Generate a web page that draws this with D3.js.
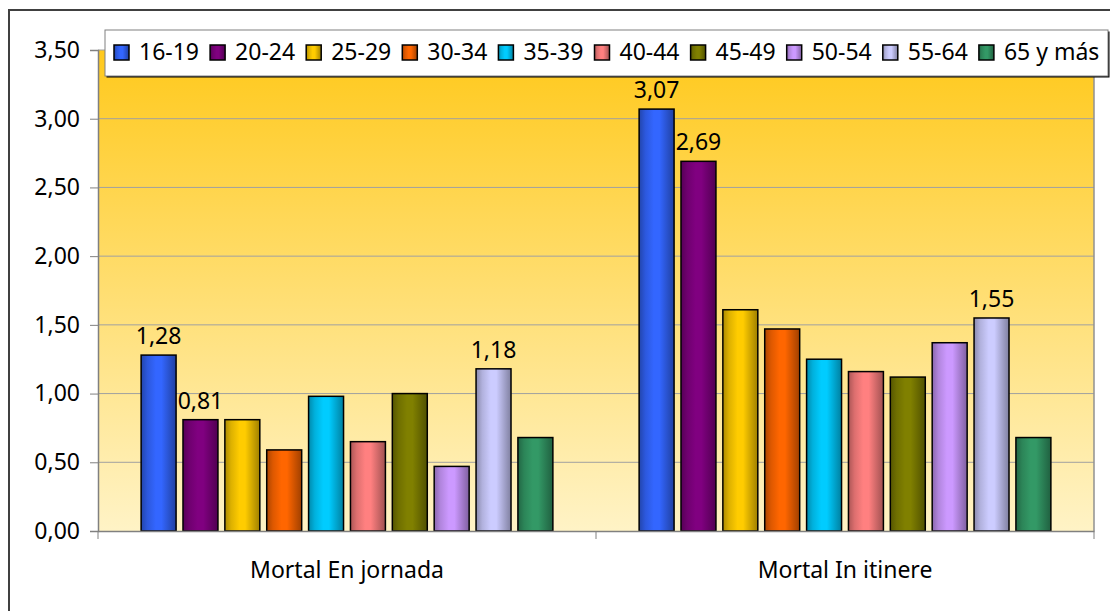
<!DOCTYPE html>
<html>
<head>
<meta charset="utf-8">
<script src="https://cdn.jsdelivr.net/npm/d3@7"></script>
<style>
  body { margin: 0; background: #fff; }
  svg text { font-family: "Noto Sans", "Open Sans", sans-serif; fill: #000; }
</style>
</head>
<body>
<div id="chart"></div>
<script>
// Datos
const categories = ["Mortal En jornada", "Mortal In itinere"];
const ageGroups = ["16-19", "20-24", "25-29", "30-34", "35-39", "40-44", "45-49", "50-54", "55-64", "65 y más"];
const enJornada = [1.28, 0.81, 0.81, 0.59, 0.98, 0.65, 1.00, 0.47, 1.18, 0.68];
const inItinere = [3.07, 2.69, 1.61, 1.47, 1.25, 1.16, 1.12, 1.37, 1.55, 0.68];
const seriesColors = ["#3366FF", "#800080", "#FFCC00", "#FF6600", "#00CCFF", "#FF8080", "#808000", "#CC99FF", "#CCCCFF", "#339966"];
const yTickValues = [0, 0.5, 1, 1.5, 2, 2.5, 3, 3.5];
// qué barras llevan etiqueta de valor
const labelledEnJornada = ["16-19", "20-24", "55-64"];
const labelledInItinere = ["16-19", "20-24", "55-64"];

const values = [enJornada, inItinere];
const labelled = [labelledEnJornada, labelledInItinere];

const rows = [];
categories.forEach((cat, ci) => {
    ageGroups.forEach((g, gi) => {
        rows.push({ cat: cat, group: g, gi: gi, value: values[ci][gi], label: labelled[ci].includes(g) });
    });
});

const es = d3.formatLocale({ decimal: ",", thousands: ".", grouping: [3], currency: ["", "€"] });
const fmt = es.format(".2f");

const width = 1110, height = 611;
const plotLeft = 98, plotRight = 1094, plotTop = 50, plotBottom = 531;
const fontSize = "23px";

const svg = d3.select("#chart").append("svg")
    .attr("width", width)
    .attr("height", height);

const defs = svg.append("defs");

// fondo del área de trazado
const bg = defs.append("linearGradient")
    .attr("id", "bg").attr("x1", 0).attr("y1", 0).attr("x2", 0).attr("y2", 1);
bg.append("stop").attr("offset", "0%").attr("stop-color", "#FFC91C");
bg.append("stop").attr("offset", "100%").attr("stop-color", "#FFF3C6");

// degradados de las barras
seriesColors.forEach((c, i) => {
    const g = defs.append("linearGradient")
        .attr("id", "bar" + i).attr("x1", 0).attr("y1", 0).attr("x2", 1).attr("y2", 0);
    const base = d3.rgb(c);
    g.append("stop").attr("offset", "0%").attr("stop-color", base.darker(1.1));
    g.append("stop").attr("offset", "18%").attr("stop-color", base.darker(0.4));
    g.append("stop").attr("offset", "42%").attr("stop-color", base);
    g.append("stop").attr("offset", "58%").attr("stop-color", base);
    g.append("stop").attr("offset", "100%").attr("stop-color", base.darker(1.3));
});

// marco exterior
svg.append("rect")
    .attr("x", 9).attr("y", 10)
    .attr("width", width + 20).attr("height", height + 20)
    .attr("fill", "#fff")
    .attr("stroke", "#404040")
    .attr("stroke-width", 2);

// escalas
const x0 = d3.scaleBand()
    .domain(categories)
    .range([plotLeft, plotRight]);

const x1 = d3.scaleBand()
    .domain(ageGroups)
    .range([0, x0.bandwidth()])
    .paddingInner(0.165)
    .paddingOuter(1.03);

const y = d3.scaleLinear()
    .domain([0, 3.5])
    .range([plotBottom, plotTop]);

// área de trazado
svg.append("rect")
    .attr("x", plotLeft).attr("y", plotTop)
    .attr("width", plotRight - plotLeft).attr("height", plotBottom - plotTop)
    .attr("fill", "url(#bg)");

// líneas de cuadrícula
svg.append("g")
    .selectAll("line")
    .data(yTickValues.filter(v => v > 0))
    .enter()
    .append("line")
    .attr("x1", plotLeft).attr("x2", plotRight)
    .attr("y1", d => y(d)).attr("y2", d => y(d))
    .attr("stroke", "#A0A0A0")
    .attr("stroke-width", 1);

// borde derecho
svg.append("line")
    .attr("x1", plotRight).attr("x2", plotRight)
    .attr("y1", plotTop).attr("y2", plotBottom)
    .attr("stroke", "#909090")
    .attr("stroke-width", 1.5);

// barras
svg.append("g")
    .selectAll("rect")
    .data(rows)
    .enter()
    .append("rect")
    .attr("x", d => x0(d.cat) + x1(d.group))
    .attr("y", d => y(d.value))
    .attr("width", x1.bandwidth())
    .attr("height", d => y(0) - y(d.value))
    .attr("fill", d => "url(#bar" + d.gi + ")")
    .attr("stroke", "#000")
    .attr("stroke-width", 1.5);

// etiquetas de valor
svg.append("g")
    .selectAll("text")
    .data(rows.filter(d => d.label))
    .enter()
    .append("text")
    .attr("x", d => x0(d.cat) + x1(d.group) + x1.bandwidth() / 2)
    .attr("y", d => y(d.value) - 11)
    .attr("text-anchor", "middle")
    .style("font-size", fontSize)
    .text(d => fmt(d.value));

// eje Y
const yAxis = svg.append("g")
    .attr("transform", `translate(${plotLeft},0)`)
    .call(d3.axisLeft(y).tickValues(yTickValues).tickFormat(fmt).tickSize(8).tickPadding(10));
yAxis.select(".domain").attr("stroke", "#808080").attr("stroke-width", 1.5);
yAxis.selectAll(".tick line").attr("stroke", "#808080");
yAxis.selectAll(".tick text").style("font-size", fontSize).attr("fill", "#000");

// eje X
const xAxis = svg.append("g")
    .attr("transform", `translate(0,${plotBottom})`)
    .call(d3.axisBottom(x0).tickSize(0).tickPadding(31));
xAxis.select(".domain").attr("stroke", "#808080").attr("stroke-width", 1.5);
xAxis.selectAll(".tick text").style("font-size", fontSize).attr("fill", "#000");

// marcas entre categorías
const boundaries = categories.map(c => x0(c)).concat([x0(categories[categories.length - 1]) + x0.bandwidth()]);
xAxis.selectAll(".sep")
    .data(boundaries)
    .enter()
    .append("line")
    .attr("class", "sep")
    .attr("x1", d => d).attr("x2", d => d)
    .attr("y1", 0).attr("y2", 8)
    .attr("stroke", "#808080");

// leyenda
const legend = svg.append("g");
legend.append("rect")
    .attr("x", 106.5).attr("y", 31.5)
    .attr("width", 1003).attr("height", 46)
    .attr("fill", "#000");
legend.append("rect")
    .attr("x", 105).attr("y", 30)
    .attr("width", 1003).attr("height", 46)
    .attr("fill", "#fff")
    .attr("stroke", "#808080")
    .attr("stroke-width", 1);

const lx = d3.scalePoint()
    .domain(ageGroups)
    .range([114, 114 + 96.1 * (ageGroups.length - 1)]);

const items = legend.selectAll(".item")
    .data(ageGroups)
    .enter()
    .append("g")
    .attr("class", "item")
    .attr("transform", d => `translate(${lx(d)},0)`);

items.append("rect")
    .attr("x", 0).attr("y", 45)
    .attr("width", 15).attr("height", 15)
    .attr("fill", (d, i) => "url(#bar" + i + ")")
    .attr("stroke", "#000")
    .attr("stroke-width", 1.5);

items.append("text")
    .attr("x", 25).attr("y", 59.5)
    .style("font-size", fontSize)
    .text(d => d);
</script>
</body>
</html>
